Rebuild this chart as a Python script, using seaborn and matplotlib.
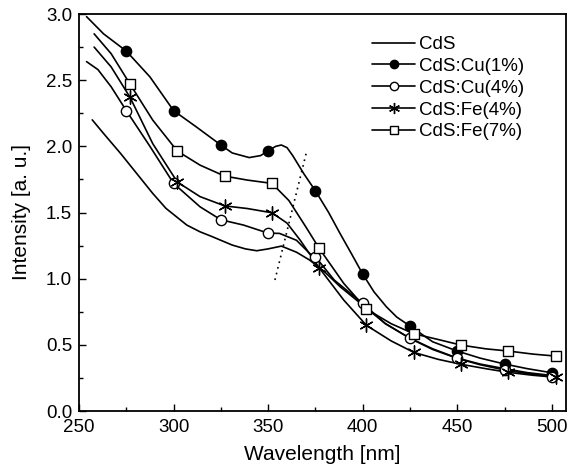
import seaborn as sns
import matplotlib.pyplot as plt
import matplotlib.ticker as mticker
from matplotlib.lines import Line2D
import pandas as pd

# Curves (wavelength in nm, intensity in a.u.)
cds_x = [257, 263, 272, 280.5, 289, 296, 307, 314, 320, 331, 338, 344, 350, 357, 365, 372, 380,
         388, 400, 412, 425, 437, 450, 462, 475, 487, 502]
cds_y = [2.20, 2.097, 1.946, 1.795, 1.644, 1.531, 1.405, 1.354, 1.32, 1.254, 1.225, 1.211, 1.225,
         1.246, 1.20, 1.14, 1.05, 0.94, 0.80, 0.66, 0.55, 0.47, 0.40, 0.355, 0.32, 0.29, 0.265]

cu1_x = [254, 263, 275, 287.5, 300, 312, 325, 331, 340, 346, 350, 354, 357, 360, 363, 369, 375,
         382, 388, 394, 400, 406, 412.5, 418, 425, 437, 450, 462, 475, 487, 500]
cu1_y = [2.98, 2.85, 2.72, 2.525, 2.27, 2.147, 2.01, 1.95, 1.915, 1.93, 1.966, 2.0, 2.01, 1.99,
         1.93, 1.79, 1.664, 1.50, 1.342, 1.19, 1.035, 0.90, 0.788, 0.71, 0.642, 0.523, 0.453,
         0.40, 0.355, 0.32, 0.289]

cu4_x = [254, 260, 267, 275, 287.5, 300, 314, 325, 337, 350, 356, 365, 372, 375, 385, 400, 412,
         425, 437, 450, 462, 475, 487, 500]
cu4_y = [2.64, 2.58, 2.45, 2.27, 2.00, 1.72, 1.543, 1.445, 1.405, 1.344, 1.342, 1.29, 1.19, 1.165,
         0.989, 0.813, 0.66, 0.549, 0.465, 0.398, 0.35, 0.31, 0.283, 0.259]

fe4_x = [258, 267, 277, 289, 302, 314, 327, 339, 352, 360, 367, 377, 390, 402, 415, 427, 440, 452,
         465, 477, 490, 502]
fe4_y = [2.75, 2.60, 2.37, 2.02, 1.73, 1.62, 1.55, 1.53, 1.498, 1.42, 1.29, 1.082, 0.838, 0.647,
         0.53, 0.443, 0.39, 0.353, 0.32, 0.292, 0.27, 0.255]

fe7_x = [258, 267, 277, 289, 302, 314, 327, 339, 352, 361, 370, 377, 390, 402, 415, 427, 440, 452,
         465, 477, 490, 502]
fe7_y = [2.85, 2.70, 2.47, 2.198, 1.964, 1.858, 1.775, 1.745, 1.72, 1.59, 1.39, 1.229, 0.964,
         0.770, 0.66, 0.584, 0.54, 0.498, 0.47, 0.453, 0.43, 0.415]

# wavelengths where symbols are drawn
cu_marks = [275, 300, 325, 350, 375, 400, 425, 450, 475, 500]
fe_marks = [277, 302, 327, 352, 377, 402, 427, 452, 477, 502]

# dotted guide line
guide_x = [353.6, 370.3]
guide_y = [0.99, 1.958]

series = [
    ("CdS", cds_x, cds_y, None, None),
    ("CdS:Cu(1%)", cu1_x, cu1_y, cu_marks, "o_fill"),
    ("CdS:Cu(4%)", cu4_x, cu4_y, cu_marks, "o_open"),
    ("CdS:Fe(4%)", fe4_x, fe4_y, fe_marks, "star"),
    ("CdS:Fe(7%)", fe7_x, fe7_y, fe_marks, "s_open"),
]

sns.set_theme(style="ticks")
plt.rcParams["font.family"] = ["Liberation Sans", "DejaVu Sans"]
plt.rcParams["text.color"] = "black"
plt.rcParams["axes.labelcolor"] = "black"
plt.rcParams["xtick.color"] = "black"
plt.rcParams["ytick.color"] = "black"
plt.rcParams["axes.edgecolor"] = "black"

fig = plt.figure(figsize=(5.68, 4.69), dpi=100)
ax = fig.add_axes([79 / 568, 1 - 411 / 469, 487 / 568, 397 / 469])

marker_style = {
    "o_fill": dict(marker="o", s=55, facecolor="black", edgecolor="black"),
    "o_open": dict(marker="o", s=55, facecolor="white", edgecolor="black"),
    "star": dict(marker=(6, 2, 0), s=90, facecolor="black", edgecolor="black"),
    "s_open": dict(marker="s", s=50, facecolor="white", edgecolor="black"),
}
legend_marker = {
    "o_fill": dict(marker="o", markerfacecolor="black", markeredgecolor="black", markersize=6),
    "o_open": dict(marker="o", markerfacecolor="white", markeredgecolor="black", markersize=6),
    "star": dict(marker=(6, 2, 0), markerfacecolor="black", markeredgecolor="black", markersize=8),
    "s_open": dict(marker="s", markerfacecolor="white", markeredgecolor="black", markersize=6),
}

handles = []
for name, xs, ys, marks, mk in series:
    df = pd.DataFrame({"wl": xs, "val": ys})
    sns.lineplot(data=df, x="wl", y="val", color="black", lw=1.2, sort=False,
                 estimator=None, ax=ax, zorder=2)
    if marks is not None:
        pts = df[df["wl"].isin(marks)]
        sns.scatterplot(data=pts, x="wl", y="val", linewidth=1.0, ax=ax, zorder=3,
                        **marker_style[mk])
        handles.append(Line2D([], [], color="black", lw=1.2, label=name, **legend_marker[mk]))
    else:
        handles.append(Line2D([], [], color="black", lw=1.2, label=name))

sns.lineplot(x=guide_x, y=guide_y, color="black", lw=1.2, linestyle=(0, (1, 2.5)), ax=ax)

ax.set_xlim(250, 507.5)
ax.set_ylim(0, 3.0)
ax.xaxis.set_major_locator(mticker.MultipleLocator(50))
ax.xaxis.set_minor_locator(mticker.MultipleLocator(25))
ax.yaxis.set_major_locator(mticker.MultipleLocator(0.5))
ax.yaxis.set_minor_locator(mticker.MultipleLocator(0.25))
ax.yaxis.set_major_formatter(mticker.FormatStrFormatter("%.1f"))
ax.tick_params(which="both", direction="in", top=False, right=False, labelsize=13.5, width=1.0,
               color="black", labelcolor="black")
ax.tick_params(which="major", length=5)
ax.tick_params(which="minor", length=3)
ax.tick_params(axis="x", which="major", pad=6)
ax.tick_params(axis="y", which="major", pad=5)
for sp in ax.spines.values():
    sp.set_linewidth(1.3)
    sp.set_color("black")

ax.set_xlabel("Wavelength [nm]", fontsize=15, labelpad=6, color="black")
ax.set_ylabel("Intensity [a. u.]", fontsize=15, labelpad=11, color="black")

fig.legend(handles=handles, loc="upper left", bbox_to_anchor=(372 / 568, 1 - 36 / 469),
           frameon=False, fontsize=13.5, handlelength=2.3, handletextpad=0.2,
           labelspacing=0.25, borderpad=0, borderaxespad=0, labelcolor="black")

fig.savefig("out.png", dpi=100)
